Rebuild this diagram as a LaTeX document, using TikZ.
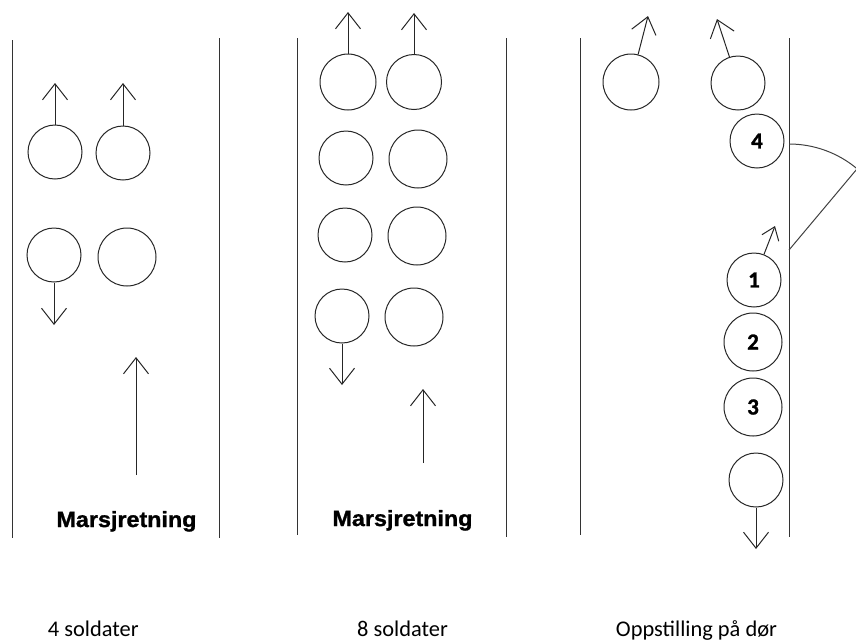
\documentclass[tikz,border=0pt]{standalone}
\usepackage{fontspec}
\setmainfont{Carlito}
\newfontfamily\arialbold{Liberation Sans Bold}[FakeBold=1.2]
\newfontfamily\carlitobold{Carlito Bold}[FakeBold=1.2]
\usetikzlibrary{arrows.meta}
\begin{document}
\begin{tikzpicture}[x=1pt,y=-1pt,
  wall/.style={draw=black!80, line width=1pt},
  soldier/.style={circle, draw=black!85, line width=1pt, inner sep=0pt, minimum size=#1,
    font=\carlitobold\fontsize{23}{23}\selectfont},
  soldier/.default=54pt,
  arr/.style={draw=black!85, line width=1pt, -{Straight Barb[length=16pt,width=25pt]}},
  smallarr/.style={draw=black!85, line width=1pt, -{Straight Barb[length=12pt,width=18pt]}},
  door/.style={draw=black!75, line width=1pt},
  march/.style={font=\arialbold\fontsize{22}{22}\selectfont, inner sep=0pt, anchor=base},
  caption/.style={font=\fontsize{22.4}{22.4}\selectfont, inner sep=0pt, anchor=base}
]
\useasboundingbox (0,0) rectangle (856,641);
\clip (0,0) rectangle (856,641);

% ---------- walls ----------
\draw[wall] (12,40) -- (12,538);
\draw[wall] (219,38) -- (219,538);
\draw[wall] (297,38) -- (297,535);
\draw[wall] (506,38) -- (506,537);
\draw[wall] (580,38) -- (580,535);
\draw[wall] (789,38) -- (789,537);

% ---------- panel 1: 4 soldater ----------
\node[soldier] (a1) at (55,152) {};
\node[soldier] (a2) at (123,153) {};
\node[soldier] (a3) at (54,255) {};
\node[soldier=58pt] (a4) at (127,257) {};
\coordinate (a1t) at (55,83);
\coordinate (a2t) at (123,83);
\coordinate (a3t) at (54,325);
\draw[arr] (a1.north) -- (a1t);
\draw[arr] (a2.north) -- (a2t);
\draw[arr] (a3.south) -- (a3t);
\coordinate (m1s) at (136,475);
\coordinate (m1e) at (136,357);
\draw[arr] (m1s) -- (m1e);
\node[march] (m1) at (126.5,527) {\scalebox{1.06}[1]{Marsjretning}};
\node[caption] (cap1) at (93.3,636) {4 soldater};

% ---------- panel 2: 8 soldater ----------
\node[soldier=56pt] (b1) at (348,82) {};
\node[soldier=55pt] (b2) at (414,82) {};
\node[soldier] (b3) at (346,158) {};
\node[soldier=58pt] (b4) at (418,159) {};
\node[soldier] (b5) at (345,235) {};
\node[soldier=58pt] (b6) at (417,236) {};
\node[soldier] (b7) at (342,316) {};
\node[soldier=58pt] (b8) at (414,317) {};
\coordinate (b1t) at (348,12);
\coordinate (b2t) at (414,13);
\coordinate (b7t) at (342,385);
\draw[arr] (b1.north) -- (b1t);
\draw[arr] (b2.north) -- (b2t);
\draw[arr] (b7.south) -- (b7t);
\coordinate (m2s) at (423,463);
\coordinate (m2e) at (423,389);
\draw[arr] (m2s) -- (m2e);
\node[march] (m2) at (402.5,526) {\scalebox{1.06}[1]{Marsjretning}};
\node[caption] (cap2) at (402.5,636) {8 soldater};

% ---------- panel 3: Oppstilling på dør ----------
\node[soldier=56pt] (c1) at (631,82) {};
\node[soldier] (c2) at (738,83) {};
\node[soldier] (n4) at (757,141) {4};
\node[soldier] (n1) at (754,280) {1};
\node[soldier=58pt] (n2) at (753,342) {2};
\node[soldier=58pt] (n3) at (753,407) {3};
\node[soldier] (c5) at (756,480) {};
\coordinate (c1t) at (648,16);
\coordinate (c2t) at (717,19);
\coordinate (n1t) at (775,226);
\coordinate (c5t) at (756,549);
\draw[arr] (c1) -- (c1t);
\draw[arr] (c2) -- (c2t);
\draw[smallarr] (n1) -- (n1t);
\draw[arr] (c5.south) -- (c5t);

% door
\coordinate (hinge) at (789,250);
\coordinate (doortop) at (789,144);
\coordinate (doorend) at (857.1,168.8);
\draw[door] (doortop) arc[start angle=-90, end angle=-50, radius=106];
\draw[door] (hinge) -- (doorend);

\node[caption] (cap3) at (696.5,636) {Oppstilling på dør};
\end{tikzpicture}
\end{document}
